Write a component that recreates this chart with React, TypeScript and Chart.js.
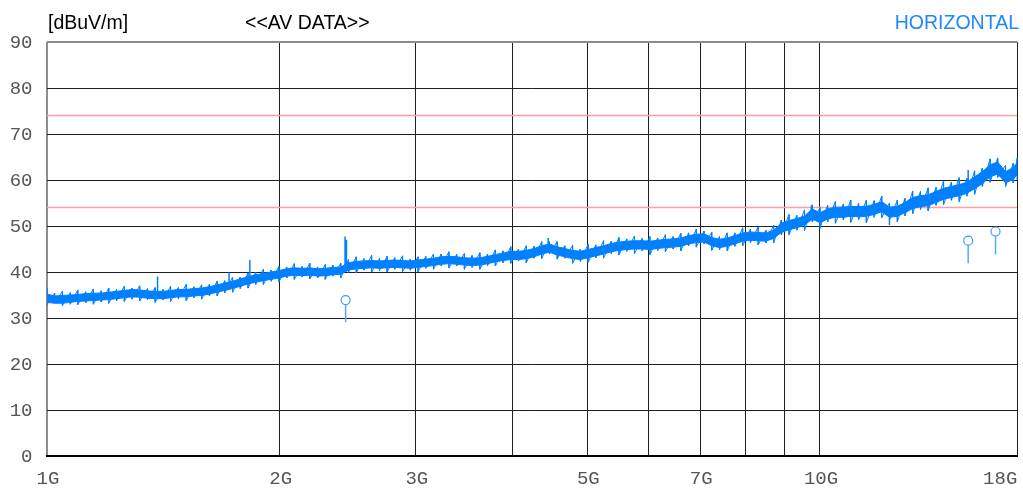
import React, { useEffect, useRef } from "react";
import { Chart, registerables } from "chart.js";

Chart.register(...registerables);

// ---- data ----
const freqs = [
  1.0, 1.023, 1.047, 1.072, 1.096, 1.122, 1.148, 1.175, 1.202, 1.23,
  1.259, 1.288, 1.318, 1.349, 1.38, 1.413, 1.445, 1.479, 1.514, 1.549,
  1.585, 1.622, 1.66, 1.698, 1.738, 1.778, 1.82, 1.862, 1.905, 1.95,
  1.995, 2.042, 2.089, 2.138, 2.188, 2.239, 2.291, 2.344, 2.399, 2.455,
  2.512, 2.57, 2.63, 2.692, 2.754, 2.818, 2.884, 2.951, 3.02, 3.09,
  3.162, 3.236, 3.311, 3.388, 3.467, 3.548, 3.631, 3.715, 3.802, 3.89,
  3.981, 4.074, 4.169, 4.266, 4.365, 4.467, 4.571, 4.677, 4.786, 4.898,
  5.012, 5.129, 5.248, 5.37, 5.495, 5.623, 5.754, 5.888, 6.026, 6.166,
  6.31, 6.457, 6.607, 6.761, 6.918, 7.079, 7.244, 7.413, 7.586, 7.762,
  7.943, 8.128, 8.318, 8.511, 8.71, 8.913, 9.12, 9.333, 9.55, 9.772,
  10.0, 10.23, 10.47, 10.72, 10.96, 11.22, 11.48, 11.75, 12.02, 12.3,
  12.59, 12.88, 13.18, 13.49, 13.8, 14.13, 14.45, 14.79, 15.14, 15.49,
  15.85, 16.22, 16.6, 16.98, 17.38, 17.78, 18.0,
];

// solid core of the noisy trace (upper / lower edge)
const coreUpper = [
  35.2, 34.8, 34.9, 35.0, 35.1, 35.3, 35.4, 35.4, 35.6, 35.8,
  36.0, 36.2, 36.1, 35.9, 35.8, 35.8, 36.0, 36.2, 36.2, 36.4,
  36.5, 36.8, 37.2, 37.6, 38.0, 38.5, 39.0, 39.4, 39.7, 40.0,
  40.3, 40.7, 40.9, 40.8, 40.9, 40.7, 40.8, 41.0, 41.1, 42.0,
  42.3, 42.4, 42.5, 42.4, 42.5, 42.6, 42.5, 42.4, 42.6, 42.8,
  43.0, 43.3, 43.4, 43.3, 43.1, 43.0, 43.1, 43.4, 43.8, 44.1,
  44.5, 44.5, 44.7, 45.1, 45.7, 46.1, 45.5, 45.1, 44.7, 44.5,
  44.9, 45.3, 45.7, 46.2, 46.5, 46.7, 46.8, 46.8, 46.7, 46.9,
  47.1, 47.2, 47.4, 47.9, 48.2, 48.3, 47.5, 47.1, 47.4, 47.9,
  48.5, 48.7, 48.6, 48.5, 49.1, 50.6, 51.2, 51.6, 52.2, 53.7,
  52.9, 53.7, 54.1, 54.1, 54.3, 54.2, 54.3, 54.7, 55.3, 54.1,
  54.3, 55.1, 56.2, 56.6, 56.8, 57.5, 58.2, 58.6, 59.0, 59.5,
  60.7, 61.8, 63.3, 63.9, 61.8, 62.7, 63.8,
];

const coreLower = [
  33.4, 33.2, 33.2, 33.4, 33.6, 33.7, 33.8, 33.9, 34.0, 34.2,
  34.4, 34.6, 34.5, 34.3, 34.2, 34.2, 34.4, 34.6, 34.6, 34.8,
  34.9, 35.2, 35.6, 36.0, 36.4, 36.9, 37.4, 37.8, 38.1, 38.4,
  38.7, 39.1, 39.3, 39.2, 39.3, 39.1, 39.2, 39.4, 39.5, 40.4,
  40.7, 40.8, 40.9, 40.8, 40.9, 41.0, 40.9, 40.8, 41.0, 41.2,
  41.4, 41.7, 41.8, 41.7, 41.5, 41.4, 41.5, 41.8, 42.2, 42.5,
  42.7, 42.7, 42.9, 43.3, 43.9, 44.3, 43.7, 43.3, 42.9, 42.7,
  43.1, 43.5, 43.9, 44.4, 44.7, 44.9, 45.0, 45.0, 44.9, 45.1,
  45.3, 45.4, 45.6, 46.1, 46.4, 46.5, 45.7, 45.3, 45.6, 46.1,
  46.7, 46.9, 46.8, 46.7, 47.3, 48.6, 49.2, 49.6, 50.2, 51.5,
  50.7, 51.5, 51.9, 51.9, 52.1, 52.0, 52.1, 52.5, 53.1, 51.9,
  52.1, 52.9, 53.8, 54.2, 54.4, 55.1, 55.8, 56.2, 56.6, 57.1,
  58.1, 59.2, 60.7, 61.3, 59.4, 60.1, 61.2,
];

// noise peaks and dips of the trace at the same frequencies
const noisePeaks = [
  36.0, 35.4, 35.8, 35.5, 36.1, 35.7, 36.3, 35.9, 36.5, 36.2,
  36.9, 36.5, 37.0, 36.4, 36.6, 36.2, 36.9, 36.6, 37.3, 36.8,
  37.2, 37.3, 38.0, 38.1, 38.9, 38.9, 39.8, 39.9, 40.6, 40.4,
  41.2, 41.1, 41.8, 41.2, 41.9, 41.1, 41.6, 41.5, 41.9, 42.7,
  43.3, 42.9, 43.6, 42.9, 43.4, 43.1, 43.5, 42.8, 43.3, 43.4,
  43.9, 43.9, 44.4, 43.8, 44.0, 43.6, 44.2, 43.9, 44.8, 44.6,
  45.5, 45.0, 45.7, 45.6, 46.6, 46.6, 46.6, 45.7, 45.8, 45.0,
  46.0, 45.9, 46.8, 46.7, 47.5, 47.2, 47.8, 47.3, 47.7, 47.4,
  48.1, 47.7, 48.4, 48.5, 49.3, 48.9, 48.6, 47.7, 48.5, 48.5,
  49.6, 49.3, 49.8, 49.1, 50.2, 51.3, 52.5, 52.3, 53.5, 54.6,
  54.0, 54.5, 55.3, 54.8, 55.6, 54.9, 55.6, 55.5, 56.5, 55.0,
  55.6, 56.0, 57.6, 57.5, 58.3, 58.4, 59.8, 59.5, 60.5, 60.4,
  62.0, 62.6, 64.6, 64.8, 63.2, 63.6, 64.8,
];

const noiseDips = [
  32.9, 33.3, 32.7, 33.0, 32.9, 33.3, 33.0, 33.5, 33.2, 33.7,
  33.6, 34.1, 33.7, 34.0, 33.4, 33.9, 33.6, 34.2, 33.8, 34.4,
  34.1, 34.8, 34.8, 35.5, 35.6, 36.4, 36.5, 37.3, 37.3, 38.0,
  37.8, 38.7, 38.4, 38.9, 38.5, 38.7, 38.4, 39.1, 38.7, 39.9,
  39.8, 40.4, 40.0, 40.3, 40.0, 40.6, 40.1, 40.4, 40.0, 40.8,
  40.6, 41.3, 40.9, 41.3, 40.6, 41.0, 40.6, 41.4, 41.3, 42.0,
  41.9, 42.4, 42.0, 43.0, 42.9, 43.9, 42.8, 43.0, 41.9, 42.3,
  42.1, 43.1, 43.0, 44.0, 43.7, 44.5, 44.0, 44.6, 43.8, 44.7,
  44.4, 45.0, 44.6, 45.7, 45.4, 46.1, 44.7, 44.8, 44.6, 45.6,
  45.7, 46.4, 45.9, 46.3, 46.3, 48.1, 48.1, 49.1, 49.0, 50.9,
  49.5, 50.9, 50.6, 51.3, 50.8, 51.4, 50.7, 51.9, 51.8, 51.3,
  50.9, 52.2, 52.7, 53.6, 53.3, 54.5, 54.6, 55.6, 55.3, 56.5,
  56.9, 58.6, 59.5, 60.6, 58.6, 59.4, 60.0,
];

const spikeFreqs = [1.0, 1.39, 1.72, 1.83, 2.43, 2.44, 4.45, 9.75, 12.3, 15.55];
const spikeTops = [36.5, 39.0, 39.9, 42.6, 47.7, 47.0, 47.4, 54.5, 50.2, 62.2];
const spikeBases = [34.3, 35.5, 37.0, 38.5, 40.5, 40.5, 45.5, 52.5, 52.5, 59.5];

const markerFreqs = [2.434, 15.55, 16.87];
const markerLevels = [33.9, 46.8, 48.8];
const stemTops = [33.0, 45.9, 47.8];
const stemBottoms = [29.1, 41.9, 43.8];

const limitLevels = [74, 54];

const yTicks = [0, 10, 20, 30, 40, 50, 60, 70, 80, 90];
const xGridFreqs = [1, 2, 3, 4, 5, 6, 7, 8, 9, 10, 18];
const xLabelFreqs = [1, 2, 3, 5, 7, 10, 18];
const xLabels = ["1G", "2G", "3G", "5G", "7G", "10G", "18G"];

const unitText = "[dBuV/m]";
const titleText = "<<AV DATA>>";
const polText = "HORIZONTAL";

const TRACE = "#0080ff";

const labelPlugin = {
  id: "labelPlugin",
  afterDraw(chart: any) {
    const ctx = chart.ctx;
    const xs = chart.scales.x;
    const ys = chart.scales.y;
    ctx.save();
    ctx.font = '19.5px "Liberation Sans", Arial, sans-serif';
    ctx.textBaseline = "alphabetic";
    ctx.fillStyle = "#000";
    ctx.textAlign = "left";
    ctx.fillText(unitText, 48, 28.5);
    ctx.fillText(titleText, 245, 28.5);
    ctx.fillStyle = "#1e88ff";
    ctx.textAlign = "right";
    ctx.fillText(polText, 1019, 28.5);

    ctx.font = '19px "Liberation Mono", "DejaVu Sans Mono", monospace';
    ctx.fillStyle = "#555";
    ctx.textAlign = "right";
    for (const v of yTicks) {
      const py = ys.getPixelForValue(v);
      ctx.fillText(String(v), 32.5, py + 5.5);
    }
    xLabelFreqs.forEach((f, i) => {
      const px = xs.getPixelForValue(f);
      const last = i === xLabelFreqs.length - 1;
      ctx.textAlign = last ? "right" : "center";
      ctx.fillText(xLabels[i], last ? px : px + 1, 484);
    });
    ctx.restore();
  },
};

export default function App() {
  const canvasRef = useRef<HTMLCanvasElement | null>(null);

  useEffect(() => {
    if (!canvasRef.current) return;
    const upperData = freqs.map((f, i) => ({ x: f, y: coreUpper[i] }));
    const lowerData = freqs.map((f, i) => ({ x: f, y: coreLower[i] }));
    const noiseData = freqs.flatMap((f, i) => [
      { x: f, y: noisePeaks[i] },
      { x: f, y: noiseDips[i] },
    ]);
    const spikeData = spikeFreqs.flatMap((f, i) => [
      { x: f, y: spikeBases[i] },
      { x: f, y: spikeTops[i] },
      { x: f, y: null },
    ]);
    const stemData = markerFreqs.flatMap((f, i) => [
      { x: f, y: stemTops[i] },
      { x: f, y: stemBottoms[i] },
      { x: f, y: null },
    ]);
    const markerData = markerFreqs.map((f, i) => ({ x: f, y: markerLevels[i] }));

    const limitSets = limitLevels.map((l) => ({
      data: [
        { x: xGridFreqs[0], y: l },
        { x: xGridFreqs[xGridFreqs.length - 1], y: l },
      ],
      borderColor: "#ffa0a0",
      borderWidth: 1.5,
      pointRadius: 0,
      fill: false,
      order: 7,
    }));

    const chart = new Chart(canvasRef.current, {
      type: "line",
      data: {
        datasets: [
          {
            data: upperData,
            borderColor: TRACE,
            borderWidth: 1,
            pointRadius: 0,
            fill: false,
            order: 5,
          },
          {
            data: lowerData,
            borderColor: TRACE,
            backgroundColor: TRACE,
            borderWidth: 1,
            pointRadius: 0,
            fill: "-1",
            order: 4,
          },
          {
            data: noiseData,
            borderColor: TRACE,
            borderWidth: 1,
            pointRadius: 0,
            fill: false,
            order: 3,
          },
          {
            data: spikeData as any,
            borderColor: TRACE,
            borderWidth: 1.5,
            pointRadius: 0,
            fill: false,
            spanGaps: false,
            order: 2,
          },
          {
            data: stemData as any,
            borderColor: "#5aa9f5",
            borderWidth: 1.5,
            pointRadius: 0,
            fill: false,
            spanGaps: false,
            order: 1,
          },
          {
            data: markerData,
            showLine: false,
            pointRadius: 4.5,
            pointStyle: "circle",
            pointBorderColor: "#3b9cf7",
            pointBackgroundColor: "rgba(0,0,0,0)",
            pointBorderWidth: 1.2,
            borderColor: "#3b9cf7",
            backgroundColor: "rgba(0,0,0,0)",
            order: 0,
          },
          ...limitSets,
        ] as any,
      },
      options: {
        animation: false,
        responsive: true,
        maintainAspectRatio: false,
        events: [],
        layout: { padding: { top: 42, right: 4, left: 0, bottom: 0 } },
        plugins: {
          legend: { display: false },
          tooltip: { enabled: false },
          title: { display: false },
        },
        scales: {
          x: {
            type: "logarithmic",
            min: 1,
            max: 18,
            afterBuildTicks: (s: any) => {
              s.ticks = xGridFreqs.map((v) => ({ value: v }));
            },
            afterFit: (s: any) => {
              s.height = 33;
            },
            ticks: { display: false },
            grid: {
              drawTicks: false,
              color: (c: any) => (c.tick && c.tick.value === 1 ? "#8c8c8c" : "#1f1f1f"),
              lineWidth: (c: any) => (c.tick && c.tick.value === 1 ? 2 : 1),
            },
            border: { display: true, color: "#000", width: 2 },
          },
          y: {
            type: "linear",
            min: 0,
            max: 90,
            afterBuildTicks: (s: any) => {
              s.ticks = yTicks.map((v) => ({ value: v }));
            },
            afterFit: (s: any) => {
              s.width = 47;
            },
            ticks: { display: false },
            grid: {
              drawTicks: false,
              color: (c: any) => (c.tick && c.tick.value === 90 ? "#8c8c8c" : "#1f1f1f"),
              lineWidth: (c: any) => (c.tick && c.tick.value === 90 ? 2 : 1),
            },
            border: { display: false },
          },
        },
      } as any,
      plugins: [labelPlugin],
    });
    return () => chart.destroy();
  }, []);

  return (
    <div style={{ position: "absolute", left: 0, top: 0, width: 1023, height: 489, background: "#fff" }}>
      <canvas ref={canvasRef} />
    </div>
  );
}
